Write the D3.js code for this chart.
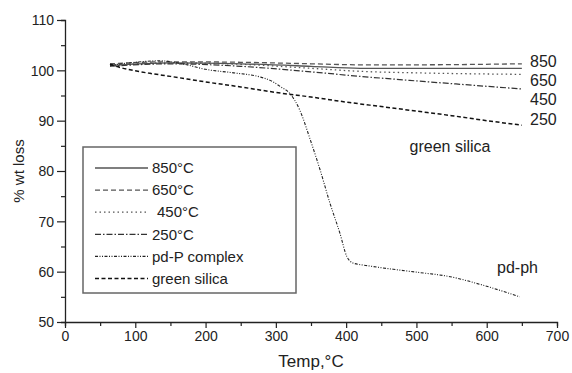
<!DOCTYPE html>
<html>
<head>
<meta charset="utf-8">
<script src="https://cdn.jsdelivr.net/npm/d3@7"></script>
<style>
  body { margin: 0; background: #fff; }
  svg text { font-family: "Liberation Sans", Arial, sans-serif; fill: #222; }
</style>
</head>
<body>
<div class="chart"></div>
<script>
// temperatures (°C) and % weight for each curve
var t850 = [64, 150, 250, 350, 420, 500, 650];
var w850 = [101.0, 101.5, 101.3, 100.8, 100.4, 100.4, 100.4];
var t650 = [64, 150, 250, 350, 420, 500, 650];
var w650 = [101.3, 101.7, 101.6, 101.3, 101.1, 101.1, 101.3];
var t450 = [64, 150, 250, 350, 420, 500, 650];
var w450 = [101.0, 101.5, 101.2, 100.4, 99.8, 99.5, 99.2];
var t250 = [64, 150, 250, 350, 420, 500, 650];
var w250 = [100.8, 101.3, 100.8, 99.7, 98.8, 97.9, 96.3];
var tPd = [64, 100, 135, 170, 200, 240, 277, 295, 306, 320, 334, 349, 363, 377, 391, 401, 410, 430, 477, 500, 548, 595, 647];
var wPd = [101.0, 101.6, 101.9, 101.2, 100.2, 99.5, 98.7, 97.8, 96.8, 95.4, 92.1, 86.2, 80.2, 73.6, 67.7, 63.0, 61.7, 61.2, 60.3, 59.9, 59.0, 57.3, 55.0];
var tGreen = [64, 80, 100, 121, 150, 200, 250, 300, 350, 405, 450, 500, 550, 600, 650];
var wGreen = [101.2, 100.5, 99.9, 99.4, 98.8, 97.7, 96.7, 95.6, 94.7, 93.6, 92.8, 91.9, 91.0, 90.0, 89.1];

var legendLabels = ["850°C", "650°C", "450°C", "250°C", "pd-P complex", "green silica"];
var endLabels = ["850", "650", "450", "250"];
var xTicks = [0, 100, 200, 300, 400, 500, 600, 700];
var yTicks = [50, 60, 70, 80, 90, 100, 110];

var w = 572, h = 373;
var svg = d3.select(".chart").append("svg")
  .attr("width", w)
  .attr("height", h);

var x = d3.scaleLinear().domain([0, 700]).range([65, 557]);
var y = d3.scaleLinear().domain([50, 110]).range([322, 20]);

var series = [
  { t: t850, v: w850, dash: null, color: "#555", width: 1.3 },
  { t: t650, v: w650, dash: "5,3", color: "#555", width: 1.3 },
  { t: t450, v: w450, dash: "1.5,3", color: "#555", width: 1.3 },
  { t: t250, v: w250, dash: "6,2,1.5,2", color: "#333", width: 1.2 },
  { t: tPd, v: wPd, dash: "3,1.5,1,1.5,1,1.5", color: "#222", width: 1.1 },
  { t: tGreen, v: wGreen, dash: "4,2.5", color: "#111", width: 1.5 }
];

var line = d3.line()
  .x(function(d) { return x(d[0]); })
  .y(function(d) { return y(d[1]); })
  .curve(d3.curveMonotoneX);

svg.selectAll("path.curve")
  .data(series)
  .enter()
  .append("path")
  .attr("class", "curve")
  .attr("fill", "none")
  .attr("stroke", function(d) { return d.color; })
  .attr("stroke-width", function(d) { return d.width; })
  .attr("stroke-dasharray", function(d) { return d.dash; })
  .attr("d", function(d) { return line(d.t.map(function(t, i) { return [t, d.v[i]]; })); });

// axes
var xAxis = svg.append("g").attr("transform", "translate(0," + y(50) + ")");
xAxis.call(d3.axisBottom(x).tickValues(d3.range(0, 701, 50)).tickSize(4).tickFormat(""));
xAxis.call(function(g) {
  g.selectAll(".tick line").filter(function(d) { return d % 100 === 0; }).attr("y2", 6);
});
xAxis.selectAll(".tick").filter(function(d) { return xTicks.indexOf(d) >= 0; })
  .append("text")
  .attr("y", 19)
  .attr("text-anchor", "middle")
  .style("font-size", "14px")
  .text(function(d) { return d; });

var yAxis = svg.append("g").attr("transform", "translate(" + x(0) + ",0)");
yAxis.call(d3.axisLeft(y).tickValues(d3.range(50, 111, 5)).tickSize(4).tickFormat(""));
yAxis.selectAll(".tick line").filter(function(d) { return d % 10 === 0; }).attr("x2", -8);
yAxis.selectAll(".tick").filter(function(d) { return yTicks.indexOf(d) >= 0; })
  .append("text")
  .attr("x", -11)
  .attr("dy", "0.35em")
  .attr("text-anchor", "end")
  .style("font-size", "14px")
  .text(function(d) { return d; });

svg.selectAll(".domain").attr("stroke", "#222").attr("stroke-width", 1.3);
svg.selectAll(".tick line").attr("stroke", "#222").attr("stroke-width", 1.2);

svg.append("text")
  .attr("x", 311).attr("y", 367)
  .attr("text-anchor", "middle")
  .style("font-size", "17px")
  .text("Temp,°C");

svg.append("text")
  .attr("transform", "translate(24,171) rotate(-90)")
  .attr("text-anchor", "middle")
  .style("font-size", "15px")
  .text("% wt loss");

// legend
var legend = svg.append("g");
legend.append("rect")
  .attr("x", 83).attr("y", 147)
  .attr("width", 213).attr("height", 146)
  .attr("fill", "#fff")
  .attr("stroke", "#666")
  .attr("stroke-width", 1.5);

var items = legend.selectAll("g.item")
  .data(series)
  .enter()
  .append("g")
  .attr("class", "item")
  .attr("transform", function(d, i) { return "translate(95," + (168 + i * 22.1) + ")"; });

items.append("line")
  .attr("x1", 0).attr("x2", 53)
  .attr("stroke", function(d) { return d.color; })
  .attr("stroke-width", function(d) { return d.width; })
  .attr("stroke-dasharray", function(d) { return d.dash; });

items.append("text")
  .attr("x", function(d, i) { return i === 2 ? 62 : 57; })
  .attr("dy", "0.35em")
  .style("font-size", "15px")
  .text(function(d, i) { return legendLabels[i]; });

// labels at the end of the curves
svg.selectAll("text.end")
  .data(endLabels)
  .enter()
  .append("text")
  .attr("class", "end")
  .attr("x", 530)
  .attr("y", function(d, i) { return 61 + i * 19.4; })
  .attr("dy", "0.35em")
  .style("font-size", "16px")
  .text(function(d) { return d; });

svg.append("text")
  .attr("x", 450).attr("y", 146).attr("dy", "0.35em")
  .attr("text-anchor", "middle")
  .style("font-size", "16px")
  .text("green silica");

svg.append("text")
  .attr("x", 497).attr("y", 267).attr("dy", "0.35em")
  .style("font-size", "16px")
  .text("pd-ph");
</script>
</body>
</html>
